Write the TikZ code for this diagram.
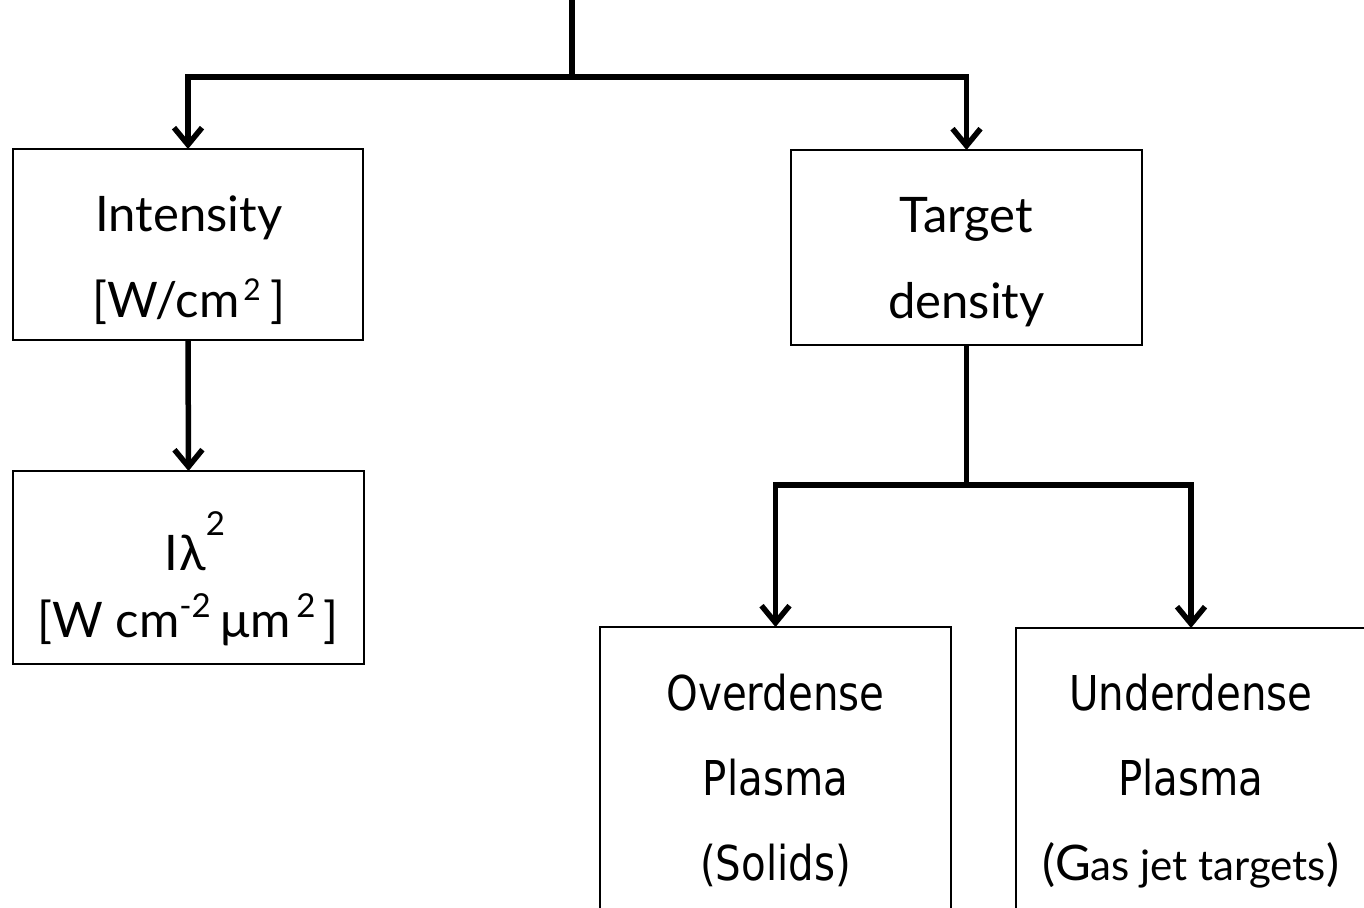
\documentclass[tikz,border=0pt]{standalone}
\usepackage{fontspec}
\setmainfont{Lato}
\newfontfamily\condfont[FakeStretch=0.84]{DejaVu Sans}
\usetikzlibrary{arrows.meta}

% small raised figures used as exponents
\newcommand{\expo}[3]{\raisebox{#1}{\fontsize{#2}{#2}\selectfont #3}}

\begin{document}
\begin{tikzpicture}[x=1pt,y=-1pt,
  box/.style={draw,line width=1.6pt,inner sep=0pt,outer sep=0pt},
  conn/.style={line width=5.5pt,line join=miter},
  arr/.style={-{Straight Barb[length=17pt,width=28pt]}},
  upper/.style={align=center,anchor=base,inner sep=0pt,font=\fontsize{49}{86}\selectfont},
  lower/.style={align=center,anchor=base,inner sep=0pt,font=\condfont\fontsize{48}{85}\selectfont}]
\useasboundingbox (0,0) rectangle (1364,907);
\clip (0,0) rectangle (1364,907);

% boxes
\node[box,minimum width=350pt,minimum height=191pt] (inten) at (188,244.5) {};
\node[box,minimum width=351pt,minimum height=193pt] (ilam) at (188.5,567.5) {};
\node[box,minimum width=351pt,minimum height=195pt] (dens) at (966.5,247.5) {};
\node[box,minimum width=351pt,minimum height=330pt] (over) at (775.5,792) {};
\node[box,minimum width=350pt,minimum height=330pt] (under) at (1191,793) {};

% box texts (anchored at the baseline of their last line)
\node[upper] (intentext) at (189,317) {Intensity\\{}[W/cm\hspace{4pt}\expo{17pt}{30}{2}\hspace{10pt}]};
\node[upper,font=\fontsize{49}{67}\selectfont] (ilamtext) at (188,637)
  {\hspace{14pt}I\hspace{1pt}λ\expo{35pt}{33}{2}\\{}[W cm\expo{20pt}{33}{-2}\hspace{10pt}μm\hspace{6pt}\expo{20pt}{33}{2}\hspace{8pt}]};
\node[upper] (denstext) at (966.5,318) {Target\\density};
\node[lower] (overtext) at (775.5,880) {Overdense\\Plasma\\(Solids)};
\node[lower] (undertext) at (1191,880)
  {Underdense\\Plasma\\{\rmfamily\fontsize{49}{85}\selectfont(G\fontsize{42}{85}\selectfont as jet targets\fontsize{49}{85}\selectfont)}};

% connectors
\coordinate (top) at (572,-5);
\coordinate (hubA) at (572,77);
\coordinate (hubB) at (966.5,485);
\draw[conn] (top) -- (hubA);
\draw[conn,arr] (hubA) -| (inten.north);
\draw[conn,arr] (hubA) -| (dens.north);
\draw[conn,arr] (inten.south) -- (ilam.north);
\draw[conn] (dens.south) -- (hubB);
\draw[conn,arr] (hubB) -| (over.north);
\draw[conn,arr] (hubB) -| (under.north);
\end{tikzpicture}
\end{document}
